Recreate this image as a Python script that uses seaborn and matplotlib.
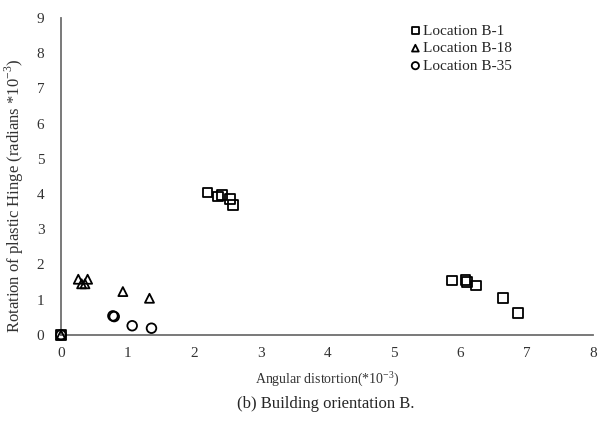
import pandas as pd
import matplotlib
matplotlib.use('Agg')
import matplotlib.pyplot as plt
import seaborn as sns

# values (x = angular distortion, y = rotation, both *10^-3)
b1_x = [0.0, 2.20, 2.36, 2.42, 2.54, 2.59, 5.88, 6.08, 6.10, 6.24, 6.64, 6.87]
b1_y = [0.0, 4.04, 3.93, 3.97, 3.86, 3.69, 1.54, 1.56, 1.51, 1.40, 1.04, 0.63]
b18_x = [0.0, 0.26, 0.31, 0.36, 0.40, 0.93, 1.33]
b18_y = [0.0, 1.58, 1.45, 1.45, 1.58, 1.23, 1.04]
b35_x = [0.0, 0.78, 0.80, 1.07, 1.36]
b35_y = [0.0, 0.54, 0.52, 0.26, 0.19]

series_names = ['Location B-1', 'Location B-18', 'Location B-35']
x_ticks = [0, 1, 2, 3, 4, 5, 6, 7, 8]
y_ticks = [0, 1, 2, 3, 4, 5, 6, 7, 8, 9]

df = pd.concat([
    pd.DataFrame({'x': b1_x, 'y': b1_y, 'loc': series_names[0]}),
    pd.DataFrame({'x': b18_x, 'y': b18_y, 'loc': series_names[1]}),
    pd.DataFrame({'x': b35_x, 'y': b35_y, 'loc': series_names[2]}),
])

sns.set_style('white')
plt.rcParams['font.family'] = ['Liberation Serif', 'DejaVu Serif']

fig = plt.figure(figsize=(5.98, 4.25), dpi=100)
ax = fig.add_axes([0.102, 0.212, 0.89, 0.746])

markers = {series_names[0]: 's', series_names[1]: '^', series_names[2]: 'o'}
sizes = {series_names[0]: 48, series_names[1]: 42, series_names[2]: 48}
for name in series_names:
    sub = df[df['loc'] == name]
    sns.scatterplot(data=sub, x='x', y='y', ax=ax, marker=markers[name], s=sizes[name],
                    facecolors='none', edgecolor='black', linewidth=1.3, label=name,
                    clip_on=False, zorder=3)

ax.set_xlim(0, 8)
ax.set_ylim(0, 9)
ax.set_xticks(x_ticks)
ax.set_yticks(y_ticks)
sns.despine(ax=ax)
for sp in ['left', 'bottom']:
    ax.spines[sp].set_color('#6e6e6e')
    ax.spines[sp].set_linewidth(1.3)
ax.tick_params(axis='y', direction='in', length=4, color='#6e6e6e', labelsize=11,
               labelcolor='#333333', pad=12)
ax.tick_params(axis='x', direction='inout', length=6, color='#6e6e6e', labelsize=11,
               labelcolor='#333333', pad=6)

ax.set_xlabel(r'Angular distortion(*10$^{\mathregular{-3}}$)', fontsize=10, color='#333333',
              labelpad=6)
ax.set_ylabel(r'Rotation of plastic Hinge (radians *10$^{\mathregular{-3}}$)', fontsize=12,
              color='#333333')
ax.yaxis.set_label_coords(-0.066, 0.44)

leg = ax.legend(loc='upper left', bbox_to_anchor=(0.64, 1.0), frameon=False, fontsize=11,
                handletextpad=0.0, labelspacing=0.25, borderaxespad=0.0, handlelength=1.0,
                markerscale=0.75)

fig.text(0.545, 0.05, '(b) Building orientation B.', ha='center', va='center', fontsize=12)

fig.savefig('out.png', dpi=100)
